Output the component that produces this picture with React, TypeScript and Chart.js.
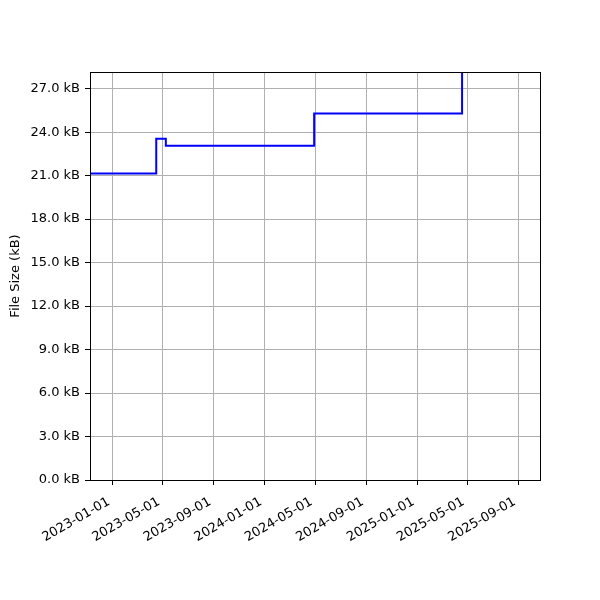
import React, { useEffect, useRef } from "react";
import { Chart, registerables } from "chart.js";

Chart.register(...registerables);

// Data (file size in kB, value holds from each date until the next one)
const stepDates = ["2022-11-08", "2023-04-16", "2023-05-09", "2024-04-29", "2025-04-19"];
const sizesKB = [21.15, 23.55, 23.07, 25.29, 31.0];

const xTickLabels = [
  "2023-01-01", "2023-05-01", "2023-09-01", "2024-01-01", "2024-05-01",
  "2024-09-01", "2025-01-01", "2025-05-01", "2025-09-01",
];
const yTickValues = [0, 3, 6, 9, 12, 15, 18, 21, 24, 27];
const xRange = ["2022-11-08", "2025-10-23"];
const yRange = [0, 28.15];

const DAY = 86400000;
const toDay = (s: string) => Date.parse(s + "T00:00:00Z") / DAY;
const fromDay = (d: number) => new Date(Math.round(d) * DAY).toISOString().slice(0, 10);

const FONT = { family: "'DejaVu Sans', sans-serif", size: 13 };

const frame = {
  id: "frame",
  afterDraw(chart: any) {
    const { ctx, chartArea: a } = chart;
    ctx.save();
    ctx.strokeStyle = "#000";
    ctx.lineWidth = 1;
    ctx.strokeRect(a.left + 0.5, a.top + 0.5, a.right - a.left, a.bottom - a.top);
    ctx.restore();
  },
};

export default function App() {
  const ref = useRef<HTMLCanvasElement>(null);
  useEffect(() => {
    const chart = new Chart(ref.current!, {
      type: "line",
      data: {
        datasets: [
          {
            data: stepDates.map((d, i) => ({ x: toDay(d), y: sizesKB[i] })),
            borderColor: "#0000ff",
            borderWidth: 2,
            pointRadius: 0,
            stepped: "before",
            fill: false,
          },
        ],
      },
      options: {
        responsive: false,
        animation: false,
        layout: { padding: { top: 72, right: 60, left: 0, bottom: 0 } },
        plugins: { legend: { display: false }, tooltip: { enabled: false } },
        scales: {
          x: {
            type: "linear",
            min: toDay(xRange[0]),
            max: toDay(xRange[1]),
            afterBuildTicks: (s: any) => {
              s.ticks = xTickLabels.map((l) => ({ value: toDay(l) }));
            },
            afterFit: (s: any) => {
              s.height = 120;
            },
            grid: { color: "#b0b0b0", tickColor: "#000", tickLength: 5, lineWidth: 1 },
            border: { color: "#000", width: 1 },
            ticks: {
              color: "#000",
              font: FONT,
              minRotation: 30,
              maxRotation: 30,
              autoSkip: false,
              padding: 7,
              callback: (v: any) => fromDay(Number(v)) + " ",
            },
          },
          y: {
            type: "linear",
            min: yRange[0],
            max: yRange[1],
            afterBuildTicks: (s: any) => {
              s.ticks = yTickValues.map((v) => ({ value: v }));
            },
            afterFit: (s: any) => {
              s.width = 90;
            },
            grid: { color: "#b0b0b0", tickColor: "#000", tickLength: 5, lineWidth: 1 },
            border: { color: "#000", width: 1 },
            ticks: {
              color: "#000",
              font: FONT,
              padding: 5,
              callback: (v: any) => `${Number(v).toFixed(1)} kB`,
            },
            title: {
              display: true,
              text: "File Size (kB)",
              color: "#000",
              font: FONT,
              padding: { top: 8, bottom: 0 },
            },
          },
        },
      },
      plugins: [frame],
    });
    return () => chart.destroy();
  }, []);
  return (
    <div style={{ position: "fixed", left: 0, top: 0, width: 600, height: 600, background: "#fff" }}>
      <canvas ref={ref} width={600} height={600} />
    </div>
  );
}
